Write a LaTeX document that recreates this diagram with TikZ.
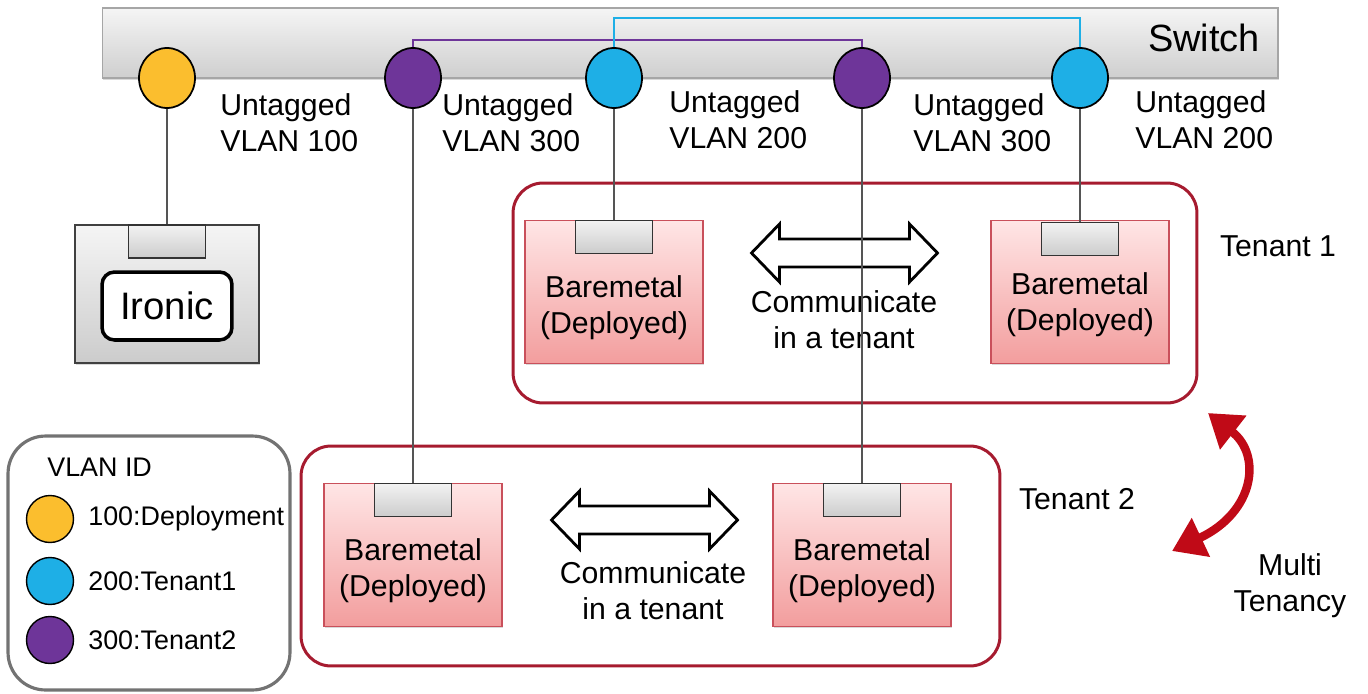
\documentclass[tikz,border=0pt]{standalone}
\usepackage{fontspec}
\setmainfont{Liberation Sans}
\usetikzlibrary{arrows.meta,shadows,shapes.geometric}

\definecolor{vlanyellow}{HTML}{FBBE2E}
\definecolor{vlanblue}{HTML}{1EAFE6}
\definecolor{vlanpurple}{HTML}{6E3599}
\definecolor{tenantred}{HTML}{A61B2F}
\definecolor{wiregray}{HTML}{555555}
\definecolor{arrowred}{HTML}{C00A17}
\definecolor{bmborder}{HTML}{C9505B}

\begin{document}
\begin{tikzpicture}[x={(0.02cm,0cm)}, y={(0cm,-0.02cm)},
    every node/.style={inner sep=0pt, font=\fontsize{17.2}{20.5}\selectfont},
    softshadow/.style={drop shadow={shadow xshift=0.7pt, shadow yshift=-0.9pt, opacity=0.3}},
    vlanport/.style={ellipse, draw=black, line width=1pt, minimum width=1.12cm, minimum height=1.2cm},
    keyport/.style={circle, draw=black, line width=0.8pt, minimum size=0.94cm},
    nicbox/.style={rectangle, draw=black!80, line width=0.8pt, top color=gray!10, bottom color=gray!40,
      minimum width=1.54cm, minimum height=0.66cm, anchor=north},
    bmbox/.style={rectangle, draw=bmborder, line width=0.7pt, top color=red!10!white, bottom color=red!35!white!95!black,
      minimum width=3.56cm, minimum height=2.86cm, softshadow},
    tenantbox/.style={rectangle, rounded corners=0.6cm, draw=tenantred, line width=1.7pt, minimum height=4.4cm},
    vlantext/.style={align=left, anchor=west},
    wire/.style={draw=wiregray, line width=1.2pt},
    commarrow/.style={draw=black, fill=white, line width=1.6pt, line join=miter},
    keytext/.style={anchor=west, font=\fontsize{15.3}{18}\selectfont}
  ]
  \useasboundingbox (0,0) rectangle (1368,693);

  \node[rectangle, draw=gray!70, line width=0.7pt, top color=gray!8, bottom color=gray!38,
    minimum width=23.52cm, minimum height=1.4cm, softshadow] (switch) at (690,43) {};
  \node[font=\fontsize{21.6}{25}\selectfont] (switchname) at (1204,38) {Switch};

  \node[tenantbox, minimum width=13.68cm] (tenant1) at (855,293) {};
  \node[tenantbox, minimum width=13.98cm] (tenant2) at (650.5,556) {};
  \node (tenant1name) at (1278,246) {Tenant 1};
  \node (tenant2name) at (1077,499) {Tenant 2};

  \draw[commarrow, shift={(844.5,253)}] (-93,0) -- (-65,-29) -- (-65,-14) -- (65,-14) -- (65,-29) -- (93,0)
    -- (65,29) -- (65,14) -- (-65,14) -- (-65,29) -- cycle;
  \draw[commarrow, shift={(644.5,520)}] (-93,0) -- (-65,-29) -- (-65,-14) -- (65,-14) -- (65,-29) -- (93,0)
    -- (65,29) -- (65,14) -- (-65,14) -- (-65,29) -- cycle;
  \node[align=center] (comm1) at (844,319.5) {Communicate\\in a tenant};
  \node[align=center] (comm2) at (653,590.5) {Communicate\\in a tenant};

  \node[bmbox] (t1l) at (614,292) {};
  \node[bmbox] (t1r) at (1080,292) {};
  \node[bmbox] (t2l) at (413,555) {};
  \node[bmbox] (t2r) at (862,555) {};
  \node[nicbox] (t1lport) at (t1l.north) {};
  \node[nicbox] (t1rport) at ([yshift=-0.04cm]t1r.north) {};
  \node[nicbox] (t2lport) at (t2l.north) {};
  \node[nicbox] (t2rport) at (t2r.north) {};
  \node[align=center] (t1ltext) at (614,307.5) {Baremetal\\(Deployed)};
  \node[align=center] (t1rtext) at (1080,304.5) {Baremetal\\(Deployed)};
  \node[align=center] (t2ltext) at (413,570.5) {Baremetal\\(Deployed)};
  \node[align=center] (t2rtext) at (862,571) {Baremetal\\(Deployed)};

  \node[rectangle, draw=black!75, line width=0.8pt, top color=gray!8, bottom color=gray!40,
    minimum width=3.68cm, minimum height=2.76cm, softshadow] (ironic) at (167,294) {};
  \node[nicbox] (ironicport) at (ironic.north) {};
  \node[rectangle, rounded corners=0.25cm, draw=black, line width=2pt, fill=white,
    minimum width=2.6cm, minimum height=1.36cm, font=\fontsize{21.8}{25}\selectfont] (ironiclabel) at (167,306) {Ironic};

  \node[vlanport, fill=vlanyellow] (py) at (167,78) {};
  \node[vlanport, fill=vlanpurple] (pu1) at (413,78) {};
  \node[vlanport, fill=vlanblue] (pb1) at (614,78) {};
  \node[vlanport, fill=vlanpurple] (pu2) at (862,78) {};
  \node[vlanport, fill=vlanblue] (pb2) at (1080,78) {};

  \node[vlantext] (vlan1) at (220,123) {Untagged\\VLAN 100};
  \node[vlantext] (vlan2) at (442,123) {Untagged\\VLAN 300};
  \node[vlantext] (vlan3) at (669,120) {Untagged\\VLAN 200};
  \node[vlantext] (vlan4) at (913,123) {Untagged\\VLAN 300};
  \node[vlantext] (vlan5) at (1135,120) {Untagged\\VLAN 200};

  \coordinate (purplebus) at (600,40);
  \coordinate (bluebus) at (800,18);
  \draw[draw=vlanpurple, line width=1.4pt] (pu1.north) |- (purplebus) -| (pu2.north);
  \draw[draw=vlanblue, line width=1.4pt] (pb1.north) |- (bluebus) -| (pb2.north);

  \draw[wire] (py.south) -- (ironicport.north);
  \draw[wire] (pu1.south) -- (t2lport.north);
  \draw[wire] (pb1.south) -- (t1lport.north);
  \draw[wire] (pu2.south) -- (t2rport.north);
  \draw[wire] (pb2.south) -- (t1rport.north);

  \coordinate (mttop) at (1208,413);
  \coordinate (mtbottom) at (1172,551);
  \draw[draw=arrowred, line width=4.8pt, {Triangle[length=0.64cm,width=0.82cm]}-{Triangle[length=0.64cm,width=0.82cm]}]
    (mttop) .. controls (1262,455) and (1255,512) .. (mtbottom);
  \node[align=center] (multitenancy) at (1290,586) {Multi\\Tenancy};

  \node[rectangle, rounded corners=0.75cm, draw=gray!90!black, line width=1.8pt,
    minimum width=5.64cm, minimum height=5.08cm] (legend) at (149,563) {};
  \node[keytext] (legendname) at (47,467) {VLAN ID};
  \node[keyport, fill=vlanyellow] (ky) at (50,519) {};
  \node[keyport, fill=vlanblue] (kb) at (50,581) {};
  \node[keyport, fill=vlanpurple] (ku) at (50,640) {};
  \node[keytext] (kytext) at (88,519) {100:Deployment};
  \node[keytext] (kbtext) at (88,581) {200:Tenant1};
  \node[keytext] (kutext) at (88,640) {300:Tenant2};
\end{tikzpicture}
\end{document}
